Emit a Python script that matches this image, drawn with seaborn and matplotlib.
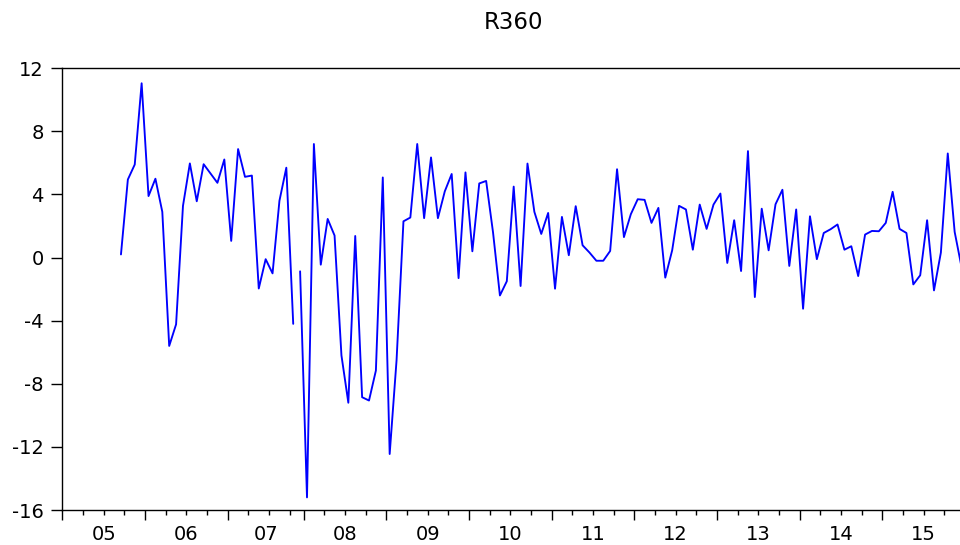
import numpy as np
import pandas as pd
import matplotlib
matplotlib.use("Agg")
import matplotlib.pyplot as plt
import seaborn as sns

sns.set_style("ticks")
plt.rcParams["font.family"] = ["DejaVu Sans"]
plt.rcParams["axes.unicode_minus"] = False

# Monthly sample Sep 2005 - Dec 2015; November 2007 is not in the sample,
# so the line breaks there and the axis skips that month.
first_month = "2005-09"
last_month = "2015-12"
absent_month = "2007-11"

r360_2005 = [0.2, 4.95, 5.9, 11.05]
r360_2006 = [3.9, 5.0, 2.9, -5.6, -4.23, 3.28, 5.97, 3.57, 5.92, 5.33, 4.74, 6.22]
r360_2007 = [1.06, 6.88, 5.12, 5.2, -1.96, -0.1, -1.0, 3.6, 5.7, -4.2, -0.87]
r360_2008 = [-15.2, 7.2, -0.45, 2.45, 1.4, -6.2, -9.2, 1.37, -8.85, -9.06, -7.16, 5.08]
r360_2009 = [-12.45, -6.5, 2.3, 2.54, 7.2, 2.5, 6.35, 2.5, 4.2, 5.3, -1.3, 5.4]
r360_2010 = [0.4, 4.7, 4.86, 1.6, -2.4, -1.5, 4.5, -1.8, 5.96, 2.9, 1.5, 2.83]
r360_2011 = [-1.97, 2.58, 0.15, 3.26, 0.78, 0.32, -0.2, -0.2, 0.42, 5.6, 1.3, 2.75]
r360_2012 = [3.7, 3.66, 2.2, 3.15, -1.27, 0.46, 3.28, 3.05, 0.5, 3.36, 1.82, 3.36]
r360_2013 = [4.06, -0.34, 2.37, -0.85, 6.75, -2.5, 3.1, 0.46, 3.38, 4.3, -0.53, 3.05]
r360_2014 = [-3.24, 2.62, -0.1, 1.56, 1.8, 2.1, 0.5, 0.72, -1.17, 1.46, 1.69, 1.67]
r360_2015 = [2.2, 4.17, 1.82, 1.56, -1.7, -1.12, 2.37, -2.08, 0.32, 6.6, 1.63, -0.6]

y_ticks = [-16, -12, -8, -4, 0, 4, 8, 12]

# Observation axis: one slot per month in the workfile calendar
calendar = pd.period_range("2005-01", last_month, freq="M")
calendar = calendar[calendar != pd.Period(absent_month, "M")]
start = calendar.get_loc(pd.Period(first_month, "M"))
slot = np.arange(len(calendar)) - start

obs = calendar[start:]
values = np.concatenate([r360_2005, r360_2006, r360_2007, r360_2008, r360_2009,
                         r360_2010, r360_2011, r360_2012, r360_2013, r360_2014,
                         r360_2015])
segment = (obs > pd.Period(absent_month, "M")).astype(int)
df = pd.DataFrame({"slot": slot[start:], "R360": values, "segment": segment})

months = np.array([p.month for p in calendar])
years = np.array([p.year for p in calendar])
year_bounds = list(slot[months == 1] - 0.5) + [slot[-1] + 0.5]
quarter_bounds = list(slot[np.isin(months, [4, 7, 10])] - 0.5)
year_list = sorted(set(years))
year_centers = [(slot[years == y].min() + slot[years == y].max()) / 2 for y in year_list]
year_labels = [f"{y % 100:02d}" for y in year_list]

fig = plt.figure(figsize=(9.6, 5.45), dpi=100)
ax = fig.add_axes([0.065, 0.0642, 0.9402, 0.8105])

sns.lineplot(data=df, x="slot", y="R360", units="segment", estimator=None,
             color="#0000ff", linewidth=1.35, ax=ax)

ax.set_xlim(year_bounds[0], year_bounds[-1])
ax.set_ylim(-16, 12)
ax.set_yticks(y_ticks)
ax.set_yticklabels([str(v) for v in y_ticks])
ax.set_xlabel("")
ax.set_ylabel("")

ax.set_xticks(year_bounds)
ax.set_xticks(quarter_bounds, minor=True)
ax.tick_params(axis="x", which="major", length=7.2, width=1.0, direction="out",
               labelbottom=False, color="black")
ax.tick_params(axis="x", which="minor", length=3.6, width=1.0, direction="out",
               color="black")
ax.tick_params(axis="y", which="major", length=7.9, width=1.0, direction="out",
               pad=5.5, labelsize=14, labelcolor="black", color="black")

for side in ["left", "bottom", "top", "right"]:
    ax.spines[side].set_visible(True)
    ax.spines[side].set_color("black")
    ax.spines[side].set_linewidth(1.0)

sec = ax.secondary_xaxis("bottom")
sec.set_xticks(year_centers)
sec.set_xticklabels(year_labels)
sec.tick_params(length=0, pad=10.5, labelsize=14, labelcolor="black")
sec.spines["bottom"].set_visible(False)

ax.set_title("R360", fontsize=16.5, color="black", pad=28)

fig.savefig("out.png", dpi=100)
